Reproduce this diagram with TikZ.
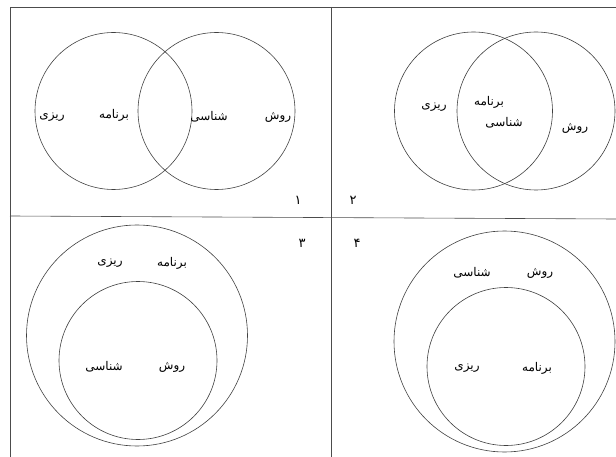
\documentclass[tikz,border=0pt]{standalone}
\usepackage{fontspec}
\newfontfamily\arabicfont[Script=Arabic]{DejaVu Sans}
\TeXXeTstate=1
\begin{document}
\begin{tikzpicture}[x=1pt, y=-1pt, line width=0.6pt,
			lbl/.style={font=\arabicfont\fontsize{12}{14}\selectfont, inner sep=0pt},
			num/.style={font=\arabicfont\fontsize{13}{15}\selectfont, inner sep=0pt},
			ring/.style={draw=black!75},
			rule/.style={draw=black!70}]
			\useasboundingbox (0,0) rectangle (616,457);
			% frame
			\draw[rule] (616,7) -- (10,7) -- (10,457);
			\draw[rule] (331,7) -- (331,457);
			\draw[rule] (10,216) -- (616,219);
			% 1
			\draw[ring] (113.5,111) circle[radius=78.5pt];
			\draw[ring] (216.5,111) circle[radius=78.5pt];
			\node[lbl] (riziA) at (52,117) {\beginR ریزی\endR};
			\node[lbl] (barnamehA) at (114,115) {\beginR برنامه\endR};
			\node[lbl] (shenasiA) at (209,117) {\beginR شناسی\endR};
			\node[lbl] (ravashA) at (278,117) {\beginR روش\endR};
			\node[num] (numA) at (298,200) {۱};
			% 2
			\draw[ring] (473.5,111) circle[radius=79pt];
			\draw[ring] (536,111) circle[radius=79pt];
			\node[lbl] (riziB) at (434,107) {\beginR ریزی\endR};
			\node[lbl] (barnamehB) at (489,102) {\beginR برنامه\endR};
			\node[lbl] (shenasiB) at (504,123) {\beginR شناسی\endR};
			\node[lbl] (ravashB) at (575,128) {\beginR روش\endR};
			\node[num] (numB) at (353,200) {۲};
			% 3
			\draw[ring] (137,335.5) circle[radius=110.5pt];
			\draw[ring] (138,360.5) circle[radius=79pt];
			\node[lbl] (riziC) at (110,263) {\beginR ریزی\endR};
			\node[lbl] (barnamehC) at (172,263) {\beginR برنامه\endR};
			\node[lbl] (shenasiC) at (104,367) {\beginR شناسی\endR};
			\node[lbl] (ravashC) at (172,367) {\beginR روش\endR};
			\node[num] (numC) at (302,243) {۳};
			% 4
			\draw[ring] (504.5,341.5) circle[radius=110.5pt];
			\draw[ring] (506,366.5) circle[radius=79pt];
			\node[lbl] (shenasiD) at (472,273) {\beginR شناسی\endR};
			\node[lbl] (ravashD) at (540,273) {\beginR روش\endR};
			\node[lbl] (riziD) at (467,368) {\beginR ریزی\endR};
			\node[lbl] (barnamehD) at (537,368) {\beginR برنامه\endR};
			\node[num] (numD) at (357,243) {۴};
		\end{tikzpicture}
\end{document}
